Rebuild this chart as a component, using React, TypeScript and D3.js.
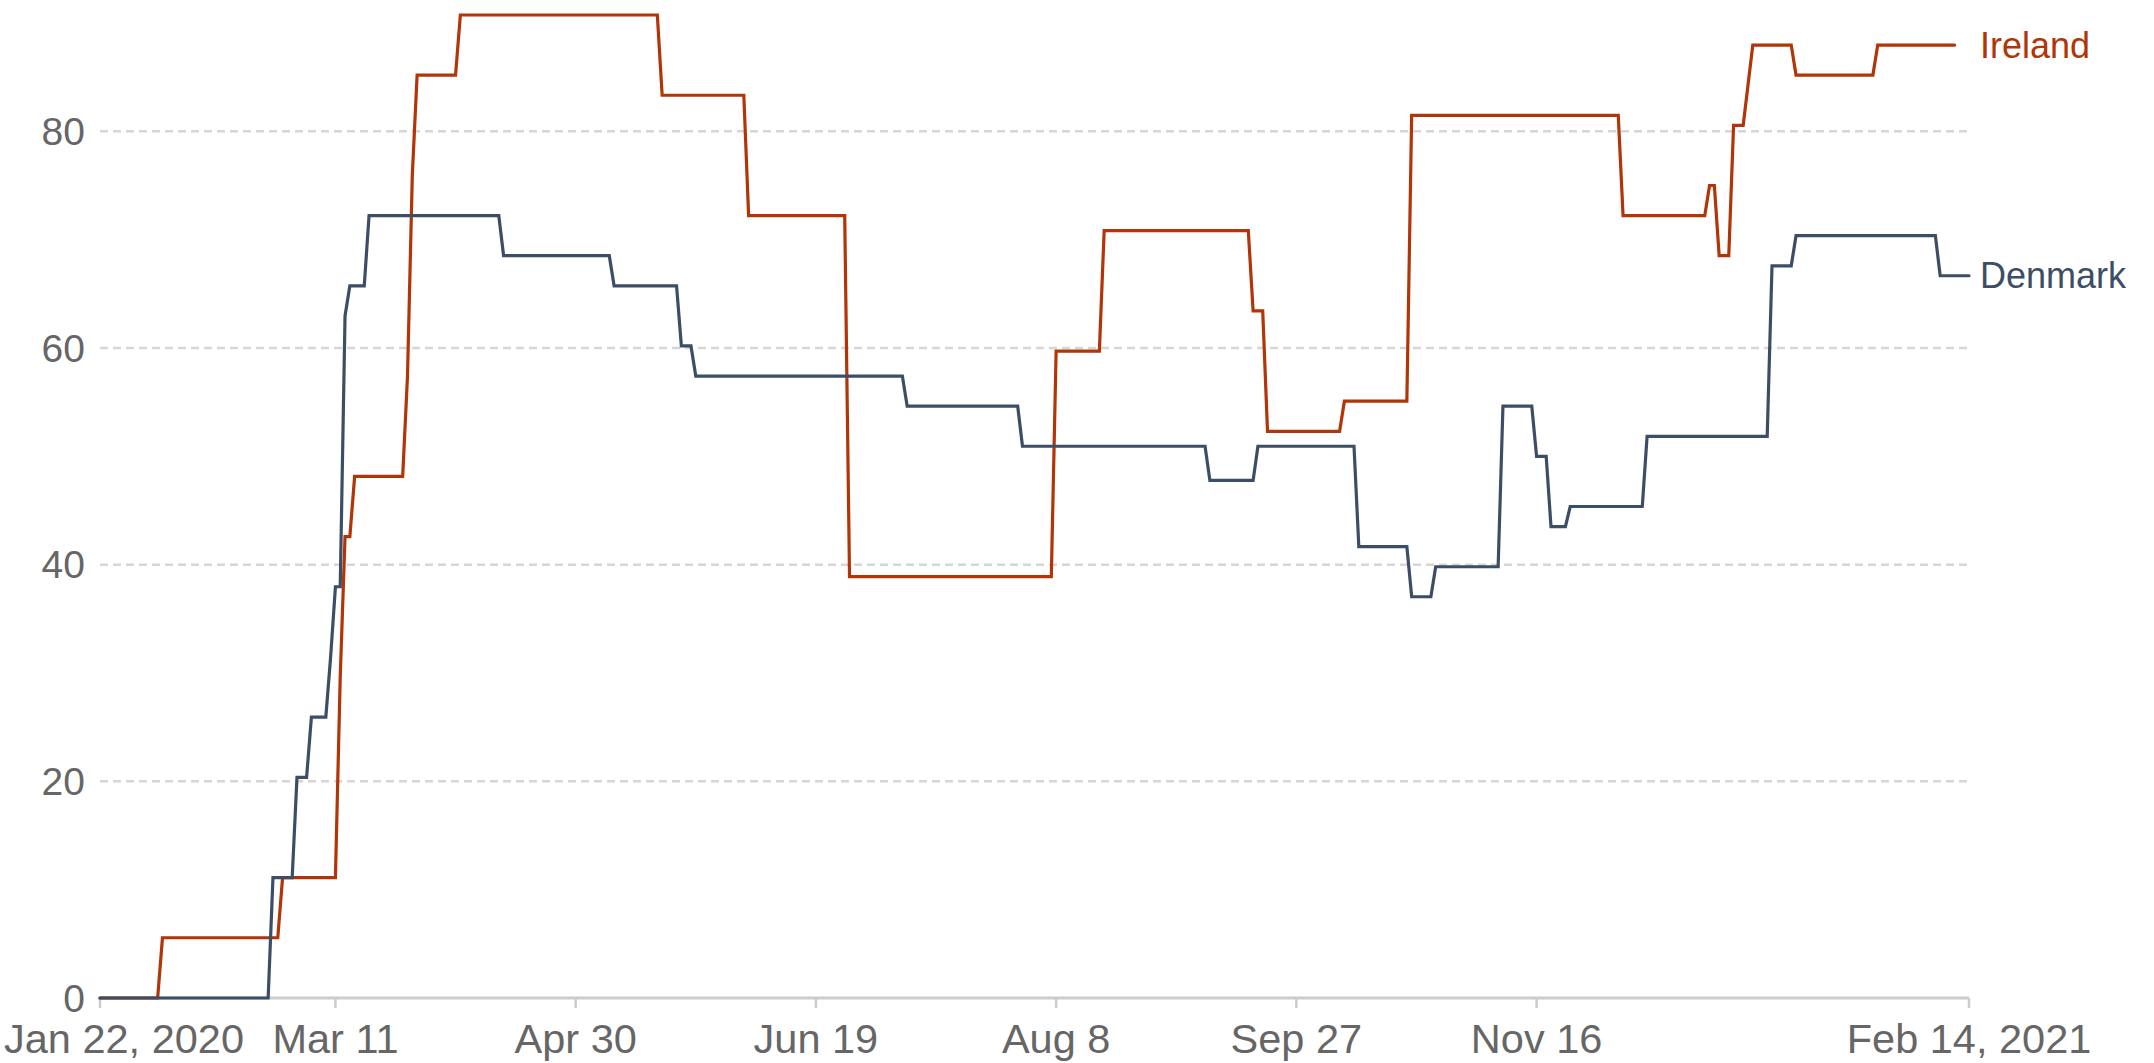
import React, { useRef, useEffect } from 'react';
import * as d3 from 'd3';

// Stringency index. Each entry is the day a new value starts; the value holds until the next entry.
const irelandDates = [
    '2020-01-22', '2020-02-04', '2020-02-29', '2020-03-12', '2020-03-13', '2020-03-15',
    '2020-03-26', '2020-03-27', '2020-03-28', '2020-04-06', '2020-05-18', '2020-06-05',
    '2020-06-26', '2020-08-08', '2020-08-18', '2020-09-18', '2020-09-21', '2020-10-07',
    '2020-10-21', '2020-12-04', '2020-12-22', '2020-12-24', '2020-12-27', '2020-12-30',
    '2020-12-31', '2021-01-09', '2021-01-26',
];
const irelandValues = [
    0, 5.56, 11.11, 29.63, 42.59, 48.15,
    57.41, 75.93, 85.19, 90.74, 83.33, 72.22,
    38.89, 59.72, 70.83, 63.43, 52.31, 55.09,
    81.48, 72.22, 75.0, 68.52, 80.56, 84.26,
    87.96, 85.19, 87.96,
];
const irelandLastDate = '2021-02-11';

const denmarkDates = [
    '2020-01-22', '2020-02-27', '2020-03-03', '2020-03-06', '2020-03-10', '2020-03-11',
    '2020-03-13', '2020-03-14', '2020-03-18', '2020-04-15', '2020-05-08', '2020-05-22',
    '2020-05-25', '2020-07-08', '2020-08-01', '2020-09-09', '2020-09-19', '2020-10-10',
    '2020-10-21', '2020-10-26', '2020-11-09', '2020-11-16', '2020-11-19', '2020-11-23',
    '2020-12-09', '2021-01-04', '2021-01-09', '2021-02-08',
];
const denmarkValues = [
    0, 11.11, 20.37, 25.93, 31.48, 37.96,
    62.96, 65.74, 72.22, 68.52, 65.74, 60.19,
    57.41, 54.63, 50.93, 47.78, 50.93, 41.67,
    37.04, 39.81, 54.63, 50.0, 43.52, 45.37,
    51.85, 67.59, 70.37, 66.67,
];
const denmarkLastDate = '2021-02-14';

const yTicks = [0, 20, 40, 60, 80];
const xTickDates = ['2020-01-22', '2020-03-11', '2020-04-30', '2020-06-19', '2020-08-08', '2020-09-27', '2020-11-16', '2021-02-14'];
const xTickLabels = ['Jan 22, 2020', 'Mar 11', 'Apr 30', 'Jun 19', 'Aug 8', 'Sep 27', 'Nov 16', 'Feb 14, 2021'];

interface Point {
    date: Date;
    value: number;
}

const parseDate = d3.utcParse('%Y-%m-%d');

// one point on the first and last day of each constant stretch
const toPoints = (dates: string[], values: number[], lastDate: string): Point[] => {
    const points: Point[] = [];
    dates.forEach((d, i) => {
        const start = parseDate(d)!;
        const end = i < dates.length - 1
            ? d3.utcDay.offset(parseDate(dates[i + 1])!, -1)
            : parseDate(lastDate)!;
        points.push({ date: start, value: values[i] });
        if (end > start) points.push({ date: end, value: values[i] });
    });
    return points;
};

const series = [
    { name: 'Ireland', color: '#B13507', points: toPoints(irelandDates, irelandValues, irelandLastDate) },
    { name: 'Denmark', color: '#3C4E66', points: toPoints(denmarkDates, denmarkValues, denmarkLastDate) },
];

const App: React.FC = () => {
    const svgRef = useRef<SVGSVGElement>(null);

    useEffect(() => {
        const width = 2154;
        const height = 1063;
        const margin = { top: 15, right: 185, bottom: 65, left: 100 };
        const font = '"Liberation Sans", Arial, Helvetica, sans-serif';

        const xScale = d3.scaleUtc()
            .domain([parseDate(xTickDates[0])!, parseDate(xTickDates[xTickDates.length - 1])!])
            .range([margin.left, width - margin.right]);

        const maxValue = d3.max(series, s => d3.max(s.points, p => p.value)) || 0;
        const yScale = d3.scaleLinear()
            .domain([0, maxValue])
            .range([height - margin.bottom, margin.top]);

        const svg = d3.select(svgRef.current);
        svg.selectAll('*').remove();

        svg.attr('width', width).attr('height', height);

        // dashed gridlines
        svg.append('g')
            .selectAll('line')
            .data(yTicks.filter(t => t > 0))
            .join('line')
            .attr('x1', margin.left)
            .attr('x2', width - margin.right)
            .attr('y1', d => yScale(d))
            .attr('y2', d => yScale(d))
            .attr('stroke', '#d6d6d6')
            .attr('stroke-width', 2.5)
            .attr('stroke-dasharray', '8,5');

        // y labels
        svg.append('g')
            .selectAll('text')
            .data(yTicks)
            .join('text')
            .attr('x', margin.left - 15)
            .attr('y', d => yScale(d))
            .attr('dy', '0.35em')
            .attr('text-anchor', 'end')
            .attr('font-family', font)
            .attr('font-size', 39)
            .attr('fill', '#666')
            .text(d => d);

        // x axis
        const axisY = yScale(0);
        svg.append('line')
            .attr('x1', margin.left)
            .attr('x2', width - margin.right)
            .attr('y1', axisY)
            .attr('y2', axisY)
            .attr('stroke', '#ccc')
            .attr('stroke-width', 3);

        const tickData = xTickDates.map((d, i) => ({ date: parseDate(d)!, label: xTickLabels[i] }));
        svg.append('g')
            .selectAll('line')
            .data(tickData)
            .join('line')
            .attr('x1', d => xScale(d.date))
            .attr('x2', d => xScale(d.date))
            .attr('y1', axisY)
            .attr('y2', axisY + 10)
            .attr('stroke', '#ccc')
            .attr('stroke-width', 2.5);

        svg.append('g')
            .selectAll('text')
            .data(tickData)
            .join('text')
            .attr('x', (d, i) => (i === 0 ? 4 : xScale(d.date)))
            .attr('y', axisY + 55)
            .attr('text-anchor', (d, i) => (i === 0 ? 'start' : 'middle'))
            .attr('font-family', font)
            .attr('font-size', 41.5)
            .attr('fill', '#666')
            .text(d => d.label);

        // lines
        const line = d3.line<Point>()
            .x(d => xScale(d.date))
            .y(d => yScale(d.value));

        series.forEach(s => {
            svg.append('path')
                .datum(s.points)
                .attr('fill', 'none')
                .attr('stroke', s.color)
                .attr('stroke-width', 3.2)
                .attr('stroke-linecap', 'round')
                .attr('d', line);

            const last = s.points[s.points.length - 1];
            svg.append('text')
                .attr('x', width - margin.right + 11)
                .attr('y', yScale(last.value))
                .attr('dy', '0.35em')
                .attr('font-family', font)
                .attr('font-size', 36)
                .attr('fill', s.color)
                .text(s.name);
        });
    }, []);

    return (
        <div style={{ position: 'absolute', left: 0, top: 0 }}>
            <svg ref={svgRef}></svg>
        </div>
    );
};

export default App;
